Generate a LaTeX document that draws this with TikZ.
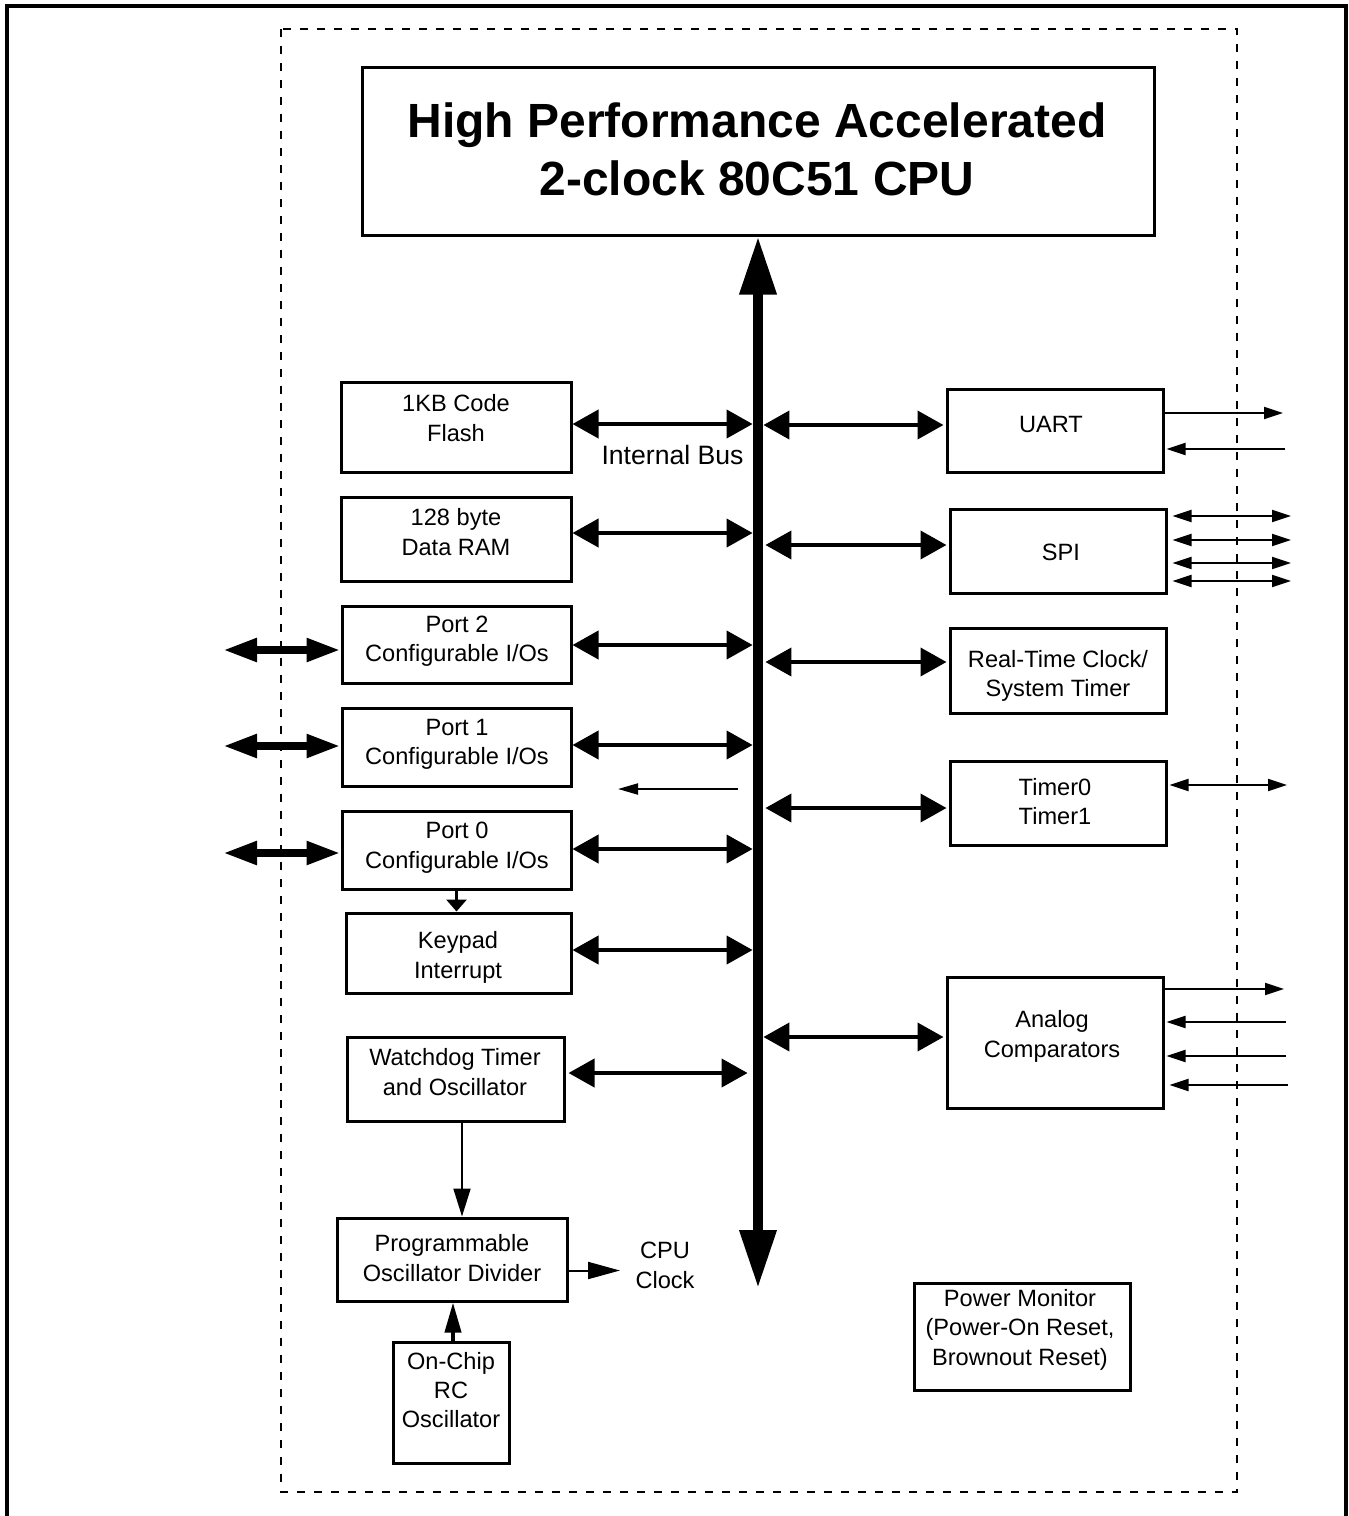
\documentclass[tikz,border=0pt]{standalone}
\usepackage{fontspec}
\setmainfont{Liberation Sans}
\usetikzlibrary{arrows.meta,calc}
\begin{document}
\begin{tikzpicture}[x=0.5pt,y=-0.5pt,
 every node/.style={inner sep=0pt},
 box/.style={draw, line width=1.5pt},
 txt/.style={align=center, font=\fontsize{11.8}{14.7}\selectfont},
 busarr/.style={line width=2pt, {Triangle[length=13pt,width=14pt]}-{Triangle[length=13pt,width=14pt]}},
 portarr/.style={line width=4pt, {Triangle[length=17pt,width=11pt]}-{Triangle[length=17pt,width=11pt]}},
 thinin/.style={line width=1pt, -{Triangle[length=9.5pt,width=6pt]}},
 thindbl/.style={line width=1pt, {Triangle[length=9.5pt,width=6pt]}-{Triangle[length=9.5pt,width=6pt]}},
]
\useasboundingbox (0,0) rectangle (1349,1516);
% outer frame and dashed chip outline
\draw[line width=2pt] (7,1516) -- (7,6) -- (1346,6) -- (1346,1516);
\draw[line width=1pt, dash pattern=on 4pt off 4.5pt] (281,29) rectangle (1237,1492);

% boxes
\node[box, minimum width=396pt, minimum height=84pt] (cpu) at (758,151) {};
\node[box, minimum width=115pt, minimum height=45pt] (flash) at (456,427) {};
\node[box, minimum width=115pt, minimum height=42pt] (ram) at (456,539) {};
\node[box, minimum width=114.5pt, minimum height=38.5pt] (port2) at (456.5,644.5) {};
\node[box, minimum width=114.5pt, minimum height=39pt] (port1) at (456.5,747) {};
\node[box, minimum width=114.5pt, minimum height=39pt] (port0) at (456.5,850) {};
\node[box, minimum width=112.5pt, minimum height=40pt] (keypad) at (458.5,953) {};
\node[box, minimum width=108.5pt, minimum height=42pt] (wdt) at (455.5,1079) {};
\node[box, minimum width=115pt, minimum height=41.5pt] (pod) at (452,1259.5) {};
\node[box, minimum width=58pt, minimum height=60.5pt] (rc) at (451,1402.5) {};
\node[box, minimum width=108pt, minimum height=41.5pt] (uart) at (1055,430.5) {};
\node[box, minimum width=108pt, minimum height=42pt] (spi) at (1058,551) {};
\node[box, minimum width=108pt, minimum height=42.5pt] (rtc) at (1058,670.5) {};
\node[box, minimum width=108pt, minimum height=42pt] (timer) at (1058,803) {};
\node[box, minimum width=108pt, minimum height=65.5pt] (analog) at (1055,1042.5) {};
\node[box, minimum width=108pt, minimum height=53.5pt] (pwr) at (1022,1336.5) {};

% texts
\node[align=center, font=\fontsize{24}{29}\selectfont\bfseries] (cput) at (757,149) {High Performance Accelerated\\2-clock 80C51 CPU};
\node[txt] (flasht) at (456,418) {1KB Code\\Flash};
\node[txt] (ramt) at (456,532) {128 byte\\Data RAM};
\node[txt] (port2t) at (457,641) {Port 2\\Configurable I/Os};
\node[txt] (port1t) at (457,744.5) {Port 1\\Configurable I/Os};
\node[txt] (port0t) at (457,847.5) {Port 0\\Configurable I/Os};
\node[txt] (keypadt) at (458,957.5) {Keypad\\Interrupt};
\node[txt] (wdtt) at (455,1072) {Watchdog Timer\\and Oscillator};
\node[txt] (podt) at (452,1258) {Programmable\\Oscillator Divider};
\node[txt] (rct) at (451,1390) {On-Chip\\RC\\Oscillator};
\node[txt] (uartt) at (1051,424) {UART};
\node[txt] (spit) at (1061,552) {SPI};
\node[txt] (rtct) at (1058,676) {Real-Time Clock/\\System Timer};
\node[txt] (timert) at (1055,801.5) {Timer0\\Timer1};
\node[txt] (analogt) at (1052,1036.5) {Analog\\Comparators};
\node[txt] (pwrt) at (1020,1329.5) {Power Monitor\\(Power-On Reset,\\Brownout Reset)};
\node[align=center, font=\fontsize{13.3}{16}\selectfont] (ibus) at (672.5,455) {Internal Bus};
\node[txt] (cpuclk) at (665,1265.5) {CPU\\Clock};

% internal bus
\node[minimum width=5pt, minimum height=10pt] (bus) at (758,760) {};
\coordinate (busend) at (758,1288);
\draw[line width=5pt, {Triangle[length=29pt,width=17.5pt]}-{Triangle[length=29pt,width=17.5pt]}] (cpu.south) -- (busend);

% left bus connections
\coordinate (fa) at ($(flash.east)+(0,-3)$);
\draw[busarr] (fa) -- (fa -| bus.west);
\coordinate (ra) at ($(ram.east)+(0,-6)$);
\draw[busarr] (ra) -- (ra -| bus.west);
\coordinate (p2a) at ($(port2.east)+(0,0.5)$);
\draw[busarr] (p2a) -- (p2a -| bus.west);
\coordinate (p1a) at ($(port1.east)+(0,-2)$);
\draw[busarr] (p1a) -- (p1a -| bus.west);
\coordinate (p0a) at ($(port0.east)+(0,-1)$);
\draw[busarr] (p0a) -- (p0a -| bus.west);
\coordinate (ka) at ($(keypad.east)+(0,-3)$);
\draw[busarr] (ka) -- (ka -| bus.west);
\coordinate (wa) at ($(wdt.east)+(3,-6)$);
\coordinate (wb) at ($(wa -| bus.west)+(-5,0)$);
\draw[busarr] (wa) -- (wb);

% right bus connections
\coordinate (ua) at ($(uart.west)+(-2,-5.5)$);
\draw[busarr] (ua -| bus.east) -- (ua);
\coordinate (sa) at ($(spi.west)+(-2,-6)$);
\draw[busarr] ($(sa -| bus.east)+(2,0)$) -- (sa);
\coordinate (rta) at ($(rtc.west)+(-2,-8.5)$);
\draw[busarr] ($(rta -| bus.east)+(2,0)$) -- (rta);
\coordinate (ta) at ($(timer.west)+(-2,5)$);
\draw[busarr] ($(ta -| bus.east)+(2,0)$) -- (ta);
\coordinate (aa) at ($(analog.west)+(-2,-5.5)$);
\draw[busarr] (aa -| bus.east) -- (aa);

% port external pins
\coordinate (p2x) at (223,650);
\draw[portarr] (p2x) -- (p2x -| port2.west);
\coordinate (p1x) at (223,746);
\draw[portarr] (p1x) -- (p1x -| port1.west);
\coordinate (p0x) at (223,853);
\draw[portarr] (p0x) -- (p0x -| port0.west);

% UART pins
\coordinate (uo) at (1283,413);
\draw[thinin] (uo -| uart.east) -- (uo);
\coordinate (ui) at (1285,449);
\draw[thinin] (ui) -- ($(ui -| uart.east)+(2,0)$);

% SPI pins
\foreach \yy [count=\i] in {516,540,563,581} {
  \coordinate (s\i) at (1291,\yy);
  \draw[thindbl] ($(s\i -| spi.east)+(5,0)$) -- (s\i);
}

% Timer pin
\coordinate (tx) at (1287,785);
\draw[thindbl] ($(tx -| timer.east)+(2,0)$) -- (tx);

% Analog comparator pins
\coordinate (ao) at (1284,989);
\draw[thinin] (ao -| analog.east) -- (ao);
\coordinate (ai1) at (1286,1022);
\draw[thinin] (ai1) -- ($(ai1 -| analog.east)+(2,0)$);
\coordinate (ai2) at (1286,1056);
\draw[thinin] (ai2) -- ($(ai2 -| analog.east)+(2,0)$);
\coordinate (ai3) at (1288,1085);
\draw[thinin] (ai3) -- ($(ai3 -| analog.east)+(5,0)$);

% small internal arrow
\coordinate (sma) at (738,789);
\coordinate (smb) at (618,789);
\draw[line width=1pt, -{Triangle[length=10pt,width=5.5pt]}] (sma) -- (smb);

% port0 -> keypad
\draw[line width=1.5pt, -{Triangle[length=6pt,width=10pt]}] (port0.south) -- (port0.south |- keypad.north);

% watchdog -> divider
\coordinate (wd) at ($(wdt.south)+(6.5,0)$);
\draw[line width=1pt, -{Triangle[length=14pt,width=8.5pt]}] (wd) -- (wd |- pod.north);

% RC -> divider
\coordinate (rcn) at ($(rc.north)+(2,0)$);
\draw[line width=2pt, -{Triangle[length=15pt,width=8pt]}] (rcn) -- (rcn |- pod.south);

% divider -> CPU clock
\coordinate (clkin) at (620,1270.5);
\draw[line width=1pt, -{Triangle[length=16pt,width=8.5pt]}] (pod.east |- clkin) -- (clkin);
\end{tikzpicture}
\end{document}
